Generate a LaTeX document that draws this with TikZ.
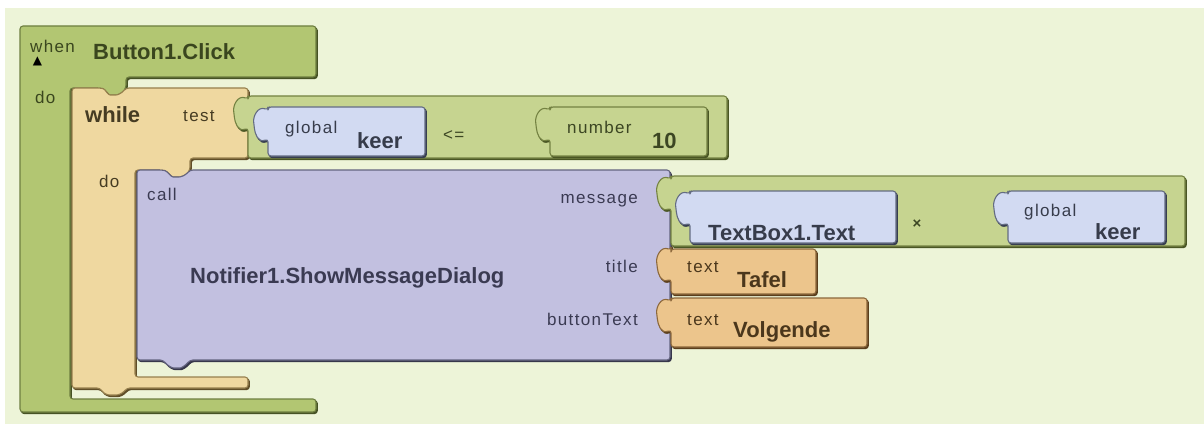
\documentclass[tikz,border=0pt]{standalone}
\usepackage{fontspec}
\setmainfont{Liberation Sans}
\newfontfamily\symfont{DejaVu Sans}
\newfontfamily\lblfont[LetterSpace=8]{Liberation Sans}

% block fills
\definecolor{canvas}{RGB}{237,244,216}
\definecolor{evtfill}{RGB}{178,198,114}
\definecolor{evtline}{RGB}{110,126,64}
\definecolor{evtshade}{RGB}{70,82,36}
\definecolor{evttext}{RGB}{58,70,30}
\definecolor{whilefill}{RGB}{239,216,160}
\definecolor{whileline}{RGB}{150,128,78}
\definecolor{whileshade}{RGB}{96,78,40}
\definecolor{whiletext}{RGB}{70,60,35}
\definecolor{callfill}{RGB}{194,192,224}
\definecolor{callline}{RGB}{100,100,128}
\definecolor{callshade}{RGB}{55,55,75}
\definecolor{calltext}{RGB}{58,58,82}
\definecolor{cmpfill}{RGB}{198,212,144}
\definecolor{cmpline}{RGB}{116,130,66}
\definecolor{cmpshade}{RGB}{74,86,36}
\definecolor{cmptext}{RGB}{60,70,35}
\definecolor{varfill}{RGB}{210,218,242}
\definecolor{varline}{RGB}{100,108,130}
\definecolor{varshade}{RGB}{55,62,80}
\definecolor{vartext}{RGB}{55,60,75}
\definecolor{txtfill}{RGB}{236,197,140}
\definecolor{txtline}{RGB}{140,104,60}
\definecolor{txtshade}{RGB}{90,62,28}
\definecolor{txttext}{RGB}{75,55,28}

% value plug on a left edge, traced upwards: #1 = edge x, #2 = top of the plug
\def\knobup#1#2{-- (#1,#2+29) .. controls (#1-10,#2+33) and (#1-13,#2+24) .. (#1-14,#2+15) .. controls (#1-15,#2+6) and (#1-10,#2-4) .. (#1,#2)}

\tikzset{
  blk/.style 2 args={line width=1.1pt, line join=round, rounded corners=3pt,
    fill=#1, draw=#2,
    preaction={fill=#2, draw=#2, line width=1.1pt,
      transform canvas={shift={(1.3pt,-1.6pt)}}}},
  evtblk/.style={blk={evtfill}{evtshade}, draw=evtline},
  whileblk/.style={blk={whilefill}{whileshade}, draw=whileline},
  callblk/.style={blk={callfill}{callshade}, draw=callline},
  cmpblk/.style={blk={cmpfill}{cmpshade}, draw=cmpline},
  varblk/.style={blk={varfill}{varshade}, draw=varline},
  txtblk/.style={blk={txtfill}{txtshade}, draw=txtline},
  sm/.style={anchor=base west, inner sep=0pt, font=\lblfont\fontsize{17}{18}\selectfont},
  smr/.style={sm, anchor=base east},
  bg/.style={anchor=base west, inner sep=0pt, font=\bfseries\fontsize{22}{23}\selectfont},
}

\begin{document}
\begin{tikzpicture}[x=1pt,y=-1pt]
\useasboundingbox (0,0) rectangle (1204,425);
\fill[white] (0,0) rectangle (1204,425);
\fill[canvas] (5,8) rectangle (1204,424);

% event block "when Button1.Click"
\path[evtblk] (20,26) -- (316,26) -- (316,77) -- (126,77) -- (126,88)
  .. controls (121,94) and (117,95) .. (113,95) .. controls (108,95) and (105,89) .. (100,88)
  -- (70,88) -- (70,399) -- (316,399) -- (316,412) -- (20,412) -- cycle;

% while loop
\path[whileblk] (72,88) -- (100,88)
  .. controls (105,89) and (108,95) .. (113,95) .. controls (117,95) and (121,94) .. (126,88)
  -- (248,88) -- (248,158) -- (190,158) -- (190,170)
  .. controls (185,176) and (180,177) .. (176,177) .. controls (171,177) and (167,171) .. (162,170)
  -- (135,170) -- (135,377) -- (248,377) -- (248,388) -- (127,388)
  .. controls (122,394) and (118,395) .. (113,395) .. controls (108,395) and (104,394) .. (100,388)
  -- (72,388) -- cycle;

% procedure call
\path[callblk] (137,170) -- (162,170)
  .. controls (167,171) and (171,177) .. (176,177) .. controls (180,177) and (185,176) .. (190,170)
  -- (670,170) -- (670,360) -- (190,360)
  .. controls (185,366) and (181,368) .. (177,368) .. controls (172,368) and (168,366) .. (163,360)
  -- (137,360) -- cycle;

% test: keer <= 10
\path[cmpblk] (248,96) -- (727,96) -- (727,158) -- (248,158) \knobup{248}{99} -- cycle;
\path[varblk] (268,107) -- (425,107) -- (425,156) -- (268,156) \knobup{268}{110} -- cycle;
\path[cmpblk] (550,107) -- (707,107) -- (707,156) -- (550,156) \knobup{550}{110} -- cycle;

% message: TextBox1.Text x keer
\path[cmpblk] (671,176) -- (1185,176) -- (1185,246) -- (671,246) \knobup{671}{179} -- cycle;
\path[varblk] (690,191) -- (896,191) -- (896,243) -- (690,243) \knobup{690}{194} -- cycle;
\path[varblk] (1008,191) -- (1165,191) -- (1165,243) -- (1008,243) \knobup{1008}{194} -- cycle;

% title and button text
\path[txtblk] (671,249) -- (816,249) -- (816,294) -- (671,294) \knobup{671}{250} -- cycle;
\path[txtblk] (671,298) -- (867,298) -- (867,347) -- (671,347) \knobup{671}{301} -- cycle;

% labels
\node[sm, text=evttext] (when) at (30,53) {when};
\node[inner sep=0pt, font=\symfont\fontsize{12}{12}\selectfont, text=black] (hat) at (37.5,61) {▲};
\node[bg, text=evttext] (evtname) at (93,60) {Button1.Click};
\node[sm, text=evttext] (do1) at (35,104) {do};

\node[bg, text=whiletext] (while) at (85,123) {while};
\node[sm, text=whiletext] (test) at (183,122) {test};
\node[sm, text=whiletext] (do2) at (99,187) {do};

\node[sm, text=calltext] (call) at (147,200) {call};
\node[bg, text=calltext] (notif) at (190,283) {Notifier1.ShowMessageDialog};
\node[smr, text=calltext] (msg) at (638,203) {message};
\node[smr, text=calltext] (title) at (638,272) {title};
\node[smr, text=calltext] (btn) at (638,325) {buttonText};

\node[sm, text=vartext] (glob1) at (285,134) {global};
\node[bg, text=vartext] (keer1) at (357,148) {keer};
\node[sm, text=cmptext] (le) at (443,141) {<=};
\node[sm, text=cmptext] (num) at (567,134) {number};
\node[bg, text=cmptext] (ten) at (652,148) {10};

\node[bg, text=vartext] (tb) at (708,240) {TextBox1.Text};
\node[inner sep=0pt, font=\bfseries\fontsize{15}{15}\selectfont, text=cmptext] (times) at (917,224) {×};
\node[sm, text=vartext] (glob2) at (1024,216) {global};
\node[bg, text=vartext] (keer2) at (1095,239) {keer};

\node[sm, text=txttext] (t1) at (687,272) {text};
\node[bg, text=txttext] (tafel) at (737,287) {Tafel};
\node[sm, text=txttext] (t2) at (687,325) {text};
\node[bg, text=txttext] (volg) at (733,337) {Volgende};
\end{tikzpicture}
\end{document}
